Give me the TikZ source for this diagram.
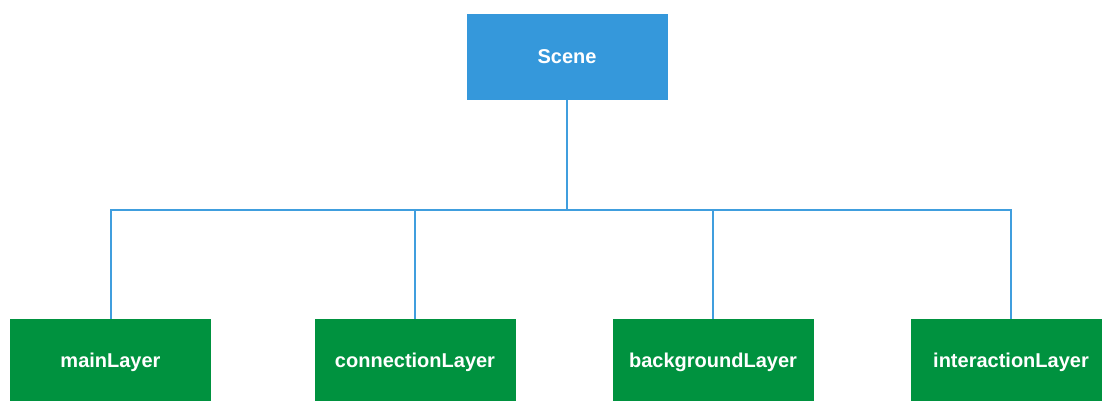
\documentclass[tikz,border=0pt]{standalone}
\usepackage{fontspec}
\setmainfont{Liberation Sans}
\usetikzlibrary{positioning}
\definecolor{sceneblue}{RGB}{53,152,219}
\definecolor{layergreen}{RGB}{0,146,63}
\definecolor{linkblue}{RGB}{64,158,222}

\begin{document}
\begin{tikzpicture}[x=1pt,y=1pt,node distance=298pt,on grid,
    box/.style={rectangle,minimum width=201pt,minimum height=86pt,inner sep=0pt,text=white,font=\fontsize{20}{22}\selectfont\bfseries},
    scenebox/.style={box,fill=sceneblue},
    layerbox/.style={box,fill=layergreen},
    link/.style={draw=linkblue,line width=2pt}]
        \useasboundingbox (0,0) rectangle (1102,-401);
        \node[scenebox]  (scene) at (567,-57)            {Scene};
        \node[layerbox]  (main)  at (110.5,-362)         {mainLayer};
        \node[layerbox]  (conn)  [right=304.5pt of main] {connectionLayer};
        \node[layerbox]  (back)  [right=of conn]         {backgroundLayer};
        \node[layerbox]  (inter) [right=of back]         {interactionLayer};
        \coordinate (bus) at (567,-210);

        \draw[link] (scene) -- (bus);
        \foreach \n in {main,conn,back,inter}
            \draw[link] (bus) -| (\n);
\end{tikzpicture}
\end{document}
